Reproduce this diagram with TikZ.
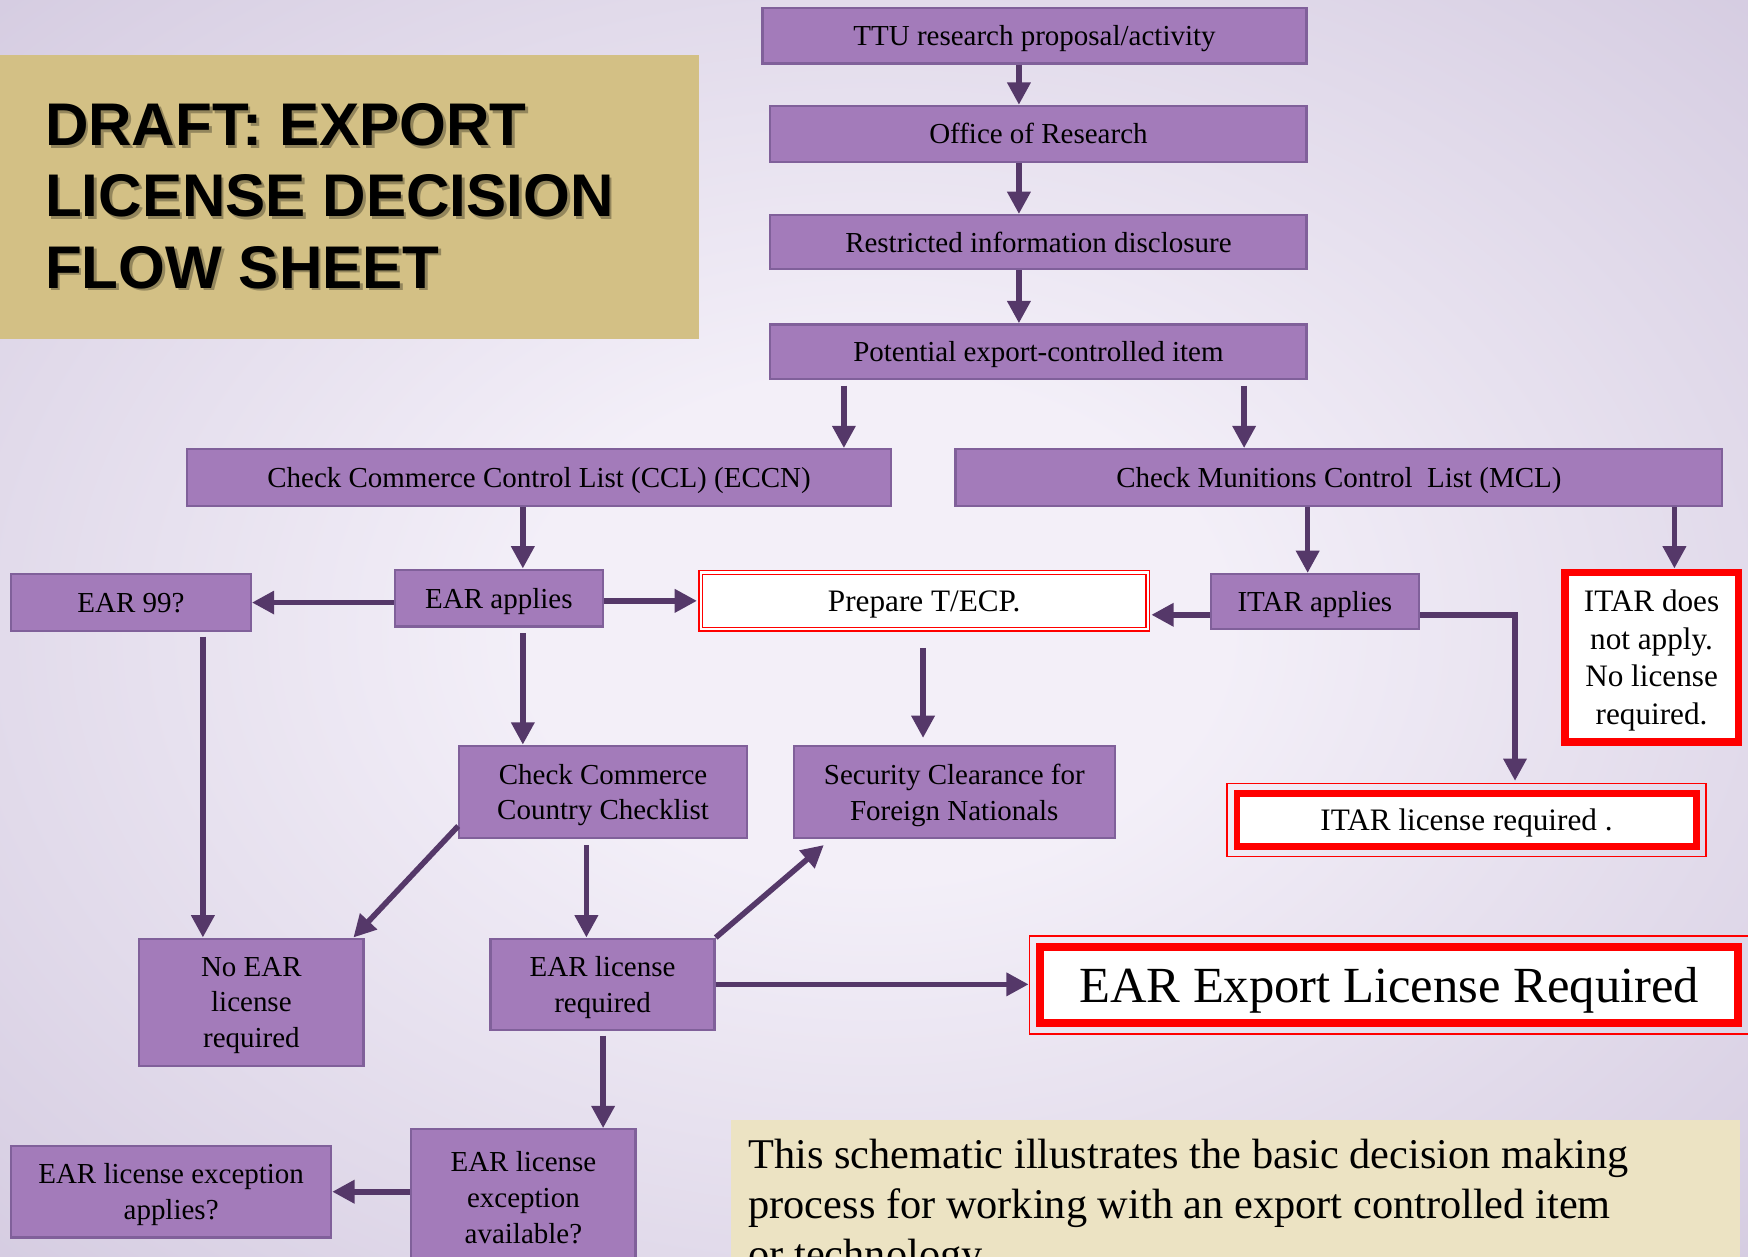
\documentclass[tikz,border=0pt]{standalone}
\usepackage{fontspec}
\setmainfont{Liberation Serif}
\newfontfamily\titlefont{Liberation Sans}
\usepackage{xcolor}
\usetikzlibrary{arrows.meta}
\definecolor{bgin}{HTML}{F3EFF8}
\definecolor{bgout}{HTML}{D5CCE1}
\definecolor{boxfill}{HTML}{A37BBA}
\definecolor{boxline}{HTML}{80609A}
\definecolor{arrowc}{HTML}{553869}
\definecolor{titlefill}{HTML}{D3C085}
\definecolor{notefill}{HTML}{ECE3C3}
\pgfdeclareradialshading{slidebg}{\pgfpoint{0bp}{0bp}}{color(0bp)=(bgin); color(10bp)=(bgin); color(36bp)=(bgout); color(50bp)=(bgout)}

\begin{document}
\begin{tikzpicture}[
  x=0.5pt, y=-0.5pt,
  every node/.style={font=\fontsize{13pt}{16pt}\selectfont, align=center, inner sep=0pt},
  pbox/.style={fill=boxfill, draw=boxline, line width=1pt, text depth=0pt},
  wbox/.style={fill=white, draw=red, text depth=0pt, font=\fontsize{14pt}{17pt}\selectfont},
  arr/.style={draw=arrowc, line width=2.5pt, -{Triangle[length=10pt,width=10pt]}}
]
\useasboundingbox (0,0) rectangle (1568,1127);
\shade[shading=slidebg] (0,0) rectangle (1568,1127);
\clip (0,0) rectangle (1568,1127);
% Title block
\node[fill=titlefill, anchor=north west, minimum width=313.5pt, minimum height=127.5pt] (titlebox) at (0,49) {};
\foreach \row/\txt in {0/DRAFT: EXPORT, 1/LICENSE DECISION, 2/FLOW SHEET}{
  \node[anchor=base west, text=black, opacity=.3, font=\titlefont\bfseries\fontsize{27pt}{32pt}\selectfont] (shadow\row) at (42.5,133+64*\row) {\txt};
  \node[anchor=base west, font=\titlefont\bfseries\fontsize{27pt}{32pt}\selectfont] (title\row) at (40,130.5+64*\row) {\txt};
}
% Top stack
\node[pbox, minimum width=244pt, minimum height=25pt] (ttu) at (928,32) {TTU research proposal/activity};
\node[pbox, minimum width=240.5pt, minimum height=25pt] (office) at (931.5,120) {Office of Research};
\node[pbox, minimum width=240.5pt, minimum height=24pt] (restr) at (931.5,217) {Restricted information disclosure};
\node[pbox, minimum width=240.5pt, minimum height=24.5pt] (pot) at (931.5,315.5) {Potential export-controlled item};
% Lists
\node[pbox, minimum width=315.5pt, minimum height=25.5pt] (ccl) at (483.5,428.5) {Check Commerce Control List (CCL) (ECCN)};
\node[pbox, minimum width=344pt, minimum height=25.5pt] (mcl) at (1201,428.5) {Check Munitions Control~~List (MCL)};
% Third row
\node[pbox, minimum width=107.5pt, minimum height=25.5pt] (ear99) at (117.5,540.5) {EAR 99?};
\node[pbox, minimum width=93.5pt, minimum height=25.5pt] (earapp) at (447.5,536.5) {EAR applies};
\node[wbox, line width=0.75pt, double=white, double distance=1pt, minimum width=200.5pt, minimum height=25.5pt] (tecp) at (829,539) {Prepare T/ECP.};
\node[pbox, minimum width=93.5pt, minimum height=24.5pt] (itarapp) at (1179.5,539.5) {ITAR applies};
\node[wbox, line width=3.5pt, minimum width=78pt, minimum height=76pt] (itarno) at (1481.5,589.5) {ITAR does\\not apply.\\No license\\required.};
\node[wbox, line width=3pt, minimum width=206pt, minimum height=24pt] (itarlic) at (1315.5,735.5) {ITAR license required .};
\draw[red, line width=0.75pt] ([shift={(-2.9pt,2.9pt)}]itarlic.north west) rectangle ([shift={(2.9pt,-2.9pt)}]itarlic.south east);
% Lower rows
\node[pbox, minimum width=129pt, minimum height=41.5pt] (country) at (541,710.5) {Check Commerce\\Country Checklist};
\node[pbox, minimum width=144pt, minimum height=41.5pt] (secur) at (856,710.5) {Security Clearance for\\Foreign Nationals};
\node[pbox, minimum width=100.5pt, minimum height=57pt] (noear) at (225.5,899) {No EAR\\license\\required};
\node[pbox, minimum width=100.5pt, minimum height=41pt] (earlic) at (540.5,883) {EAR license\\required};
\node[wbox, line width=3.5pt, minimum width=312.75pt, minimum height=34.25pt, font=\fontsize{22.7pt}{27pt}\selectfont] (earexp) at (1246,883.5) {EAR Export License Required};
\draw[red, line width=0.75pt] ([shift={(-3.1pt,3.1pt)}]earexp.north west) rectangle ([shift={(3.1pt,-3.1pt)}]earexp.south east);
\node[pbox, minimum width=100.5pt, minimum height=61pt] (exavail) at (469.5,1074) {EAR license\\exception\\available?};
\node[pbox, minimum width=143.5pt, minimum height=41pt] (exapp) at (153.5,1069) {EAR license exception\\applies?};
% Note
\node[fill=notefill, anchor=north west, minimum width=452.5pt, minimum height=68pt] (notebox) at (655,1004) {};
\foreach \row/\txt in {0/This schematic illustrates the basic decision making, 1/process for working with an export controlled item, 2/or technology}
  \node[anchor=base west, font=\fontsize{19pt}{23pt}\selectfont] (note\row) at (671,1048+45*\row) {\txt};
% Connectors
\draw[arr] (ttu.south -| 914,0) -- (office.north -| 914,0);
\draw[arr] (office.south -| 914,0) -- (restr.north -| 914,0);
\draw[arr] (restr.south -| 914,0) -- (pot.north -| 914,0);
\draw[arr, shorten <=2.5pt] (pot.south -| 757,0) -- (ccl.north -| 757,0);
\draw[arr, shorten <=2.5pt] (pot.south -| 1116,0) -- (mcl.north -| 1116,0);
\draw[arr] (ccl.south -| 469,0) -- (earapp.north -| 469,0);
\draw[arr] (mcl.south -| 1173,0) -- (itarapp.north -| 1173,0);
\draw[arr] (mcl.south -| 1502,0) -- (itarno.north -| 1502,0);
\draw[arr] (earapp.west |- ear99.east) -- (ear99.east);
\draw[arr, shorten >=1.25pt] (earapp.east |- tecp.west) -- (tecp.west);
\coordinate (itarout) at ([yshift=-6pt]itarapp.west);
\coordinate (itarright) at ([yshift=-6pt]itarapp.east);
\draw[arr, shorten >=1.25pt] (itarout) -- (itarout -| tecp.east);
\draw[arr, shorten >=4pt] (itarright) -| (itarlic.north -| 1359,0);
\draw[arr, shorten <=2pt] (ear99.south -| 182,0) -- (noear.north -| 182,0);
\draw[arr, shorten <=2.5pt] (earapp.south -| 469,0) -- (country.north -| 469,0);
\draw[arr, shorten <=8pt, shorten >=3pt] (tecp.south -| 828,0) -- (secur.north -| 828,0);
\draw[arr] ([yshift=6pt]country.south west) -- ([xshift=-5pt]noear.north east);
\draw[arr, shorten <=2.5pt] (country.south -| 526,0) -- (earlic.north -| 526,0);
\draw[arr] (earlic.north east) -- ([xshift=14pt,yshift=-2.5pt]secur.south west);
\draw[arr, shorten >=3.5pt] (earlic.east) -- (earlic.east -| earexp.west);
\draw[arr, shorten <=2pt] (earlic.south -| 541,0) -- (exavail.north -| 541,0);
\draw[arr] (exavail.west |- exapp.east) -- (exapp.east);
\end{tikzpicture}
\end{document}
